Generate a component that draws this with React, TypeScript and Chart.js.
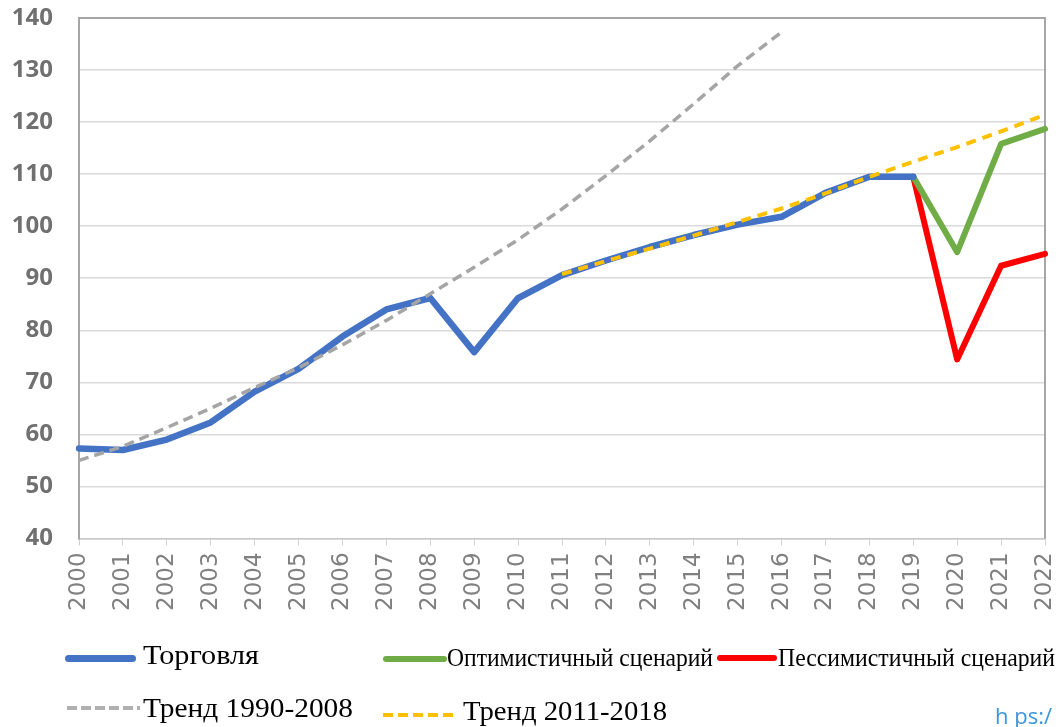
import React, { useEffect, useLayoutEffect, useRef } from "react";
import { Chart, registerables } from "chart.js";

Chart.register(...registerables);

const years = [
  "2000", "2001", "2002", "2003", "2004", "2005", "2006", "2007", "2008", "2009", "2010", "2011",
  "2012", "2013", "2014", "2015", "2016", "2017", "2018", "2019", "2020", "2021", "2022",
];

const trade = [
  57.3, 57.0, 59.0, 62.3, 68.2, 72.6, 78.8, 84.0, 86.2, 75.8, 86.2, 90.6,
  93.4, 96.0, 98.3, 100.3, 101.8, 106.4, 109.5, 109.5, null, null, null,
];

const optimistic = [
  null, null, null, null, null, null, null, null, null, null, null, null,
  null, null, null, null, null, null, null, 109.5, 95.0, 115.8, 118.7,
];

const pessimistic = [
  null, null, null, null, null, null, null, null, null, null, null, null,
  null, null, null, null, null, null, null, 109.5, 74.4, 92.4, 94.7,
];

const trend1990 = [
  55.0, 57.7, 61.3, 65.0, 69.0, 72.8, 77.2, 81.9, 87.0, 92.1, 97.4, 103.3,
  109.7, 116.4, 123.5, 130.8, 137.3, null, null, null, null, null, null,
];

const trend2011 = [
  null, null, null, null, null, null, null, null, null, null, null, 90.8,
  93.3, 95.7, 98.2, 100.8, 103.4, 106.3, 109.5, 112.4, 115.2, 118.2, 121.4,
];

const yTicks = [40, 50, 60, 70, 80, 90, 100, 110, 120, 130, 140];

const framePlugin = {
  id: "frame",
  beforeDatasetsDraw(chart: any) {
    const { ctx, chartArea } = chart;
    const { left, right, top, bottom } = chartArea;
    ctx.save();
    ctx.strokeStyle = "#a6a6a6";
    ctx.lineWidth = 2;
    ctx.beginPath();
    ctx.moveTo(left, top);
    ctx.lineTo(right, top);
    ctx.lineTo(right, bottom);
    ctx.stroke();
    ctx.restore();
  },
};

type FitProps = {
  text: string;
  left: number;
  baseline: number;
  size: number;
  width?: number;
  family: string;
  color: string;
  ascentRatio: number;
};

function FitText({ text, left, baseline, size, width, family, color, ascentRatio }: FitProps) {
  const ref = useRef<HTMLSpanElement>(null);
  useLayoutEffect(() => {
    const el = ref.current;
    if (!el || !width) return;
    el.style.transform = "none";
    const w = el.getBoundingClientRect().width;
    if (w > 0) el.style.transform = `scaleX(${width / w})`;
  }, [text, width, size, family]);
  return (
    <span
      ref={ref}
      style={{
        position: "absolute",
        left,
        top: baseline - size * ascentRatio,
        fontSize: size,
        lineHeight: `${size}px`,
        fontFamily: family,
        color,
        whiteSpace: "nowrap",
        display: "inline-block",
        transformOrigin: "0 0",
      }}
    >
      {text}
    </span>
  );
}

function SolidMark({ left, right, y, h, color }: { left: number; right: number; y: number; h: number; color: string }) {
  return (
    <div
      style={{
        position: "absolute",
        left,
        top: y - h / 2,
        width: right - left,
        height: h,
        background: color,
        borderRadius: h / 2,
      }}
    />
  );
}

function DashMark({ left, right, y, h, color, dash, gap }: { left: number; right: number; y: number; h: number; color: string; dash: number; gap: number }) {
  return (
    <div
      style={{
        position: "absolute",
        left,
        top: y - h / 2,
        width: right - left,
        height: h,
        background: `repeating-linear-gradient(to right, ${color} 0px, ${color} ${dash}px, transparent ${dash}px, transparent ${dash + gap}px)`,
      }}
    />
  );
}

const SERIF = "'Liberation Serif', 'Times New Roman', serif";

export default function App() {
  const canvasRef = useRef<HTMLCanvasElement>(null);

  useEffect(() => {
    document.body.style.margin = "0";
    const canvas = canvasRef.current;
    if (!canvas) return;
    const chart = new Chart(canvas, {
      type: "line",
      data: {
        labels: years,
        datasets: [
          {
            label: "Тренд 2011-2018",
            data: trend2011,
            borderColor: "#FFC000",
            borderWidth: 4,
            borderDash: [10, 7],
            borderCapStyle: "butt",
          },
          {
            label: "Тренд 1990-2008",
            data: trend1990,
            borderColor: "#A5A5A5",
            borderWidth: 3.5,
            borderDash: [10, 6],
            borderCapStyle: "butt",
          },
          {
            label: "Торговля",
            data: trade,
            borderColor: "#4472C4",
            borderWidth: 6.5,
          },
          {
            label: "Оптимистичный сценарий",
            data: optimistic,
            borderColor: "#70AD47",
            borderWidth: 6,
          },
          {
            label: "Пессимистичный сценарий",
            data: pessimistic,
            borderColor: "#FF0000",
            borderWidth: 6,
          },
        ],
      },
      options: {
        responsive: false,
        animation: false,
        devicePixelRatio: 1,
        layout: { padding: { top: 18, left: 0, right: 14, bottom: 109 } },
        plugins: { legend: { display: false }, tooltip: { enabled: false } },
        elements: {
          point: { radius: 0 },
          line: { tension: 0, borderJoinStyle: "round", borderCapStyle: "round" },
        },
        scales: {
          x: {
            type: "category",
            offset: false,
            grid: { drawOnChartArea: false, drawTicks: true, tickLength: 7, color: "#cfcfcf" },
            border: { display: true, color: "#c8c8c8", width: 1.5 },
            ticks: {
              maxRotation: 90,
              minRotation: 90,
              autoSkip: false,
              padding: 7,
              color: "#808080",
              font: { family: "'DejaVu Sans'", size: 23 },
            },
            afterFit: (axis: any) => {
              axis.paddingLeft = 0;
              axis.paddingRight = 0;
            },
          },
          y: {
            min: 40,
            max: 140,
            afterBuildTicks: (axis: any) => {
              axis.ticks = yTicks.map((v) => ({ value: v }));
            },
            ticks: {
              padding: 26,
              color: "#707070",
              font: { family: "'Open Sans'", size: 24, weight: "bold" },
            },
            grid: { color: "#dadada", lineWidth: 1.5, drawTicks: false },
            border: { display: true, color: "#a6a6a6", width: 2 },
            afterFit: (axis: any) => {
              axis.width = 79;
              axis.paddingTop = 0;
              axis.paddingBottom = 0;
            },
          },
        },
      },
      plugins: [framePlugin],
    } as any);
    return () => chart.destroy();
  }, []);

  return (
    <div style={{ position: "relative", width: 1059, height: 727, overflow: "hidden", background: "#ffffff" }}>
      <canvas ref={canvasRef} width={1059} height={727} style={{ position: "absolute", left: 0, top: 0 }} />

      <SolidMark left={65} right={136} y={658} h={7} color="#4472C4" />
      <FitText text="Торговля" left={143} baseline={665} size={27} width={116} family={SERIF} color="#000" ascentRatio={0.8375} />

      <SolidMark left={383} right={447} y={659} h={6} color="#70AD47" />
      <FitText text="Оптимистичный сценарий" left={447} baseline={667} size={26} width={266} family={SERIF} color="#000" ascentRatio={0.8375} />

      <SolidMark left={717} right={777} y={658} h={6} color="#FF0000" />
      <FitText text="Пессимистичный сценарий" left={778} baseline={667} size={26} width={277} family={SERIF} color="#000" ascentRatio={0.8375} />

      <DashMark left={67} right={140} y={708} h={4} color="#B0B0B0" dash={10} gap={4} />
      <FitText text="Тренд 1990-2008" left={143} baseline={718} size={27} width={210} family={SERIF} color="#000" ascentRatio={0.8375} />

      <DashMark left={383} right={458} y={715} h={4} color="#FFC000" dash={10} gap={5} />
      <FitText text="Тренд 2011-2018" left={463} baseline={721} size={27} width={204} family={SERIF} color="#000" ascentRatio={0.8375} />

      <FitText text="h ps:/" left={995} baseline={724} size={22} family="'Open Sans', sans-serif" color="#3a96dd" ascentRatio={0.888} />
    </div>
  );
}
